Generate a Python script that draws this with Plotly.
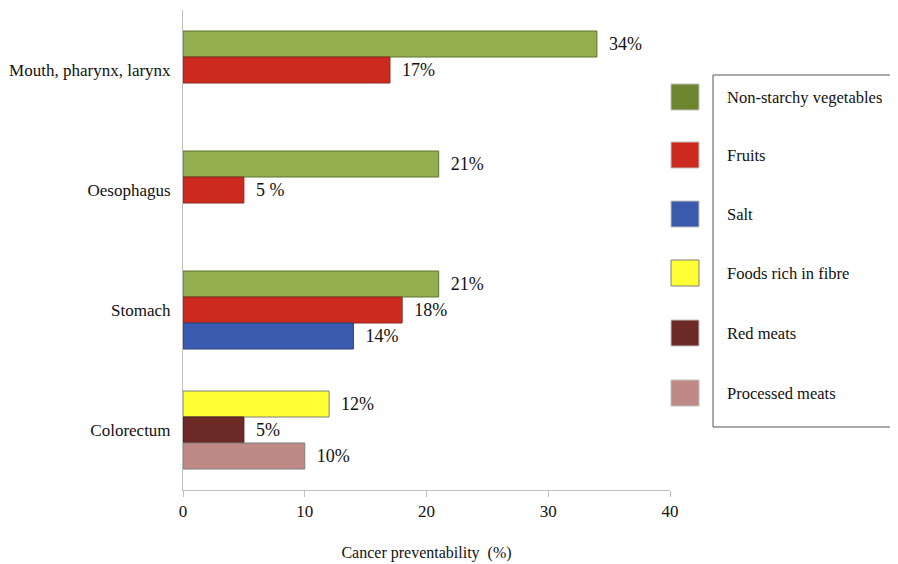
import plotly.graph_objects as go

categories = ["Mouth, pharynx, larynx", "Oesophagus", "Stomach", "Colorectum"]
series_names = ["Non-starchy vegetables", "Fruits", "Salt", "Foods rich in fibre", "Red meats", "Processed meats"]
veg = [34, 21, 21, None]
fruits = [17, 5, 18, None]
salt = [None, None, 14, None]
fibre = [None, None, None, 12]
red_meat = [None, None, None, 5]
processed = [None, None, None, 10]
veg_labels = ["34%", "21%", "21%", ""]
fruit_labels = ["17%", "5 %", "18%", ""]
salt_labels = ["", "", "14%", ""]
fibre_labels = ["", "", "", "12%"]
red_labels = ["", "", "", "5%"]
proc_labels = ["", "", "", "10%"]
x_ticks = [0, 10, 20, 30, 40]

FONT = "'Liberation Serif', 'Times New Roman', 'DejaVu Serif', serif"
series = [
    (series_names[0], veg, veg_labels, "#93ae4e", "#5d7530", "#6e8530", "0"),
    (series_names[1], fruits, fruit_labels, "#cc2a1f", "#8a2a20", "#cc2a1e", "1"),
    (series_names[2], salt, salt_labels, "#3a5bb0", "#2b437f", "#3a5bad", "2"),
    (series_names[3], fibre, fibre_labels, "#ffff33", "#808080", "#ffff33", "0"),
    (series_names[4], red_meat, red_labels, "#6e2a27", "#4a1c1a", "#6e2a26", "1"),
    (series_names[5], processed, proc_labels, "#bf8a85", "#7f7f7f", "#bf8a85", "2"),
]

fig = go.Figure()
for name, vals, labels, col, edge, lcol, og in series:
    fig.add_trace(go.Bar(
        y=categories, x=vals, orientation="h", name=name,
        marker=dict(color=col, line=dict(color=edge, width=1)),
        text=labels, texttemplate="  %{text}", textposition="outside",
        textfont=dict(family=FONT, size=18, color="#111"),
        cliponaxis=False, offsetgroup=og, showlegend=False,
    ))

W, H = 890, 556
L, T = 175, 2
PW, PH = 487, 480
fig.update_layout(
    width=W, height=H,
    margin=dict(l=L, r=W - L - PW, t=T, b=H - T - PH),
    paper_bgcolor="white", plot_bgcolor="white",
    barmode="group", bargap=0.35, bargroupgap=0,
    font=dict(family=FONT, size=16, color="#111"),
    xaxis=dict(range=[0, 40], tickvals=x_ticks, showgrid=False, zeroline=False,
               showline=True, linecolor="#bfbfbf", linewidth=1,
               ticks="outside", ticklen=6, tickcolor="#bfbfbf",
               tickfont=dict(family=FONT, size=17),
               title=dict(text="Cancer preventability  (%)", font=dict(family=FONT, size=16), standoff=26)),
    yaxis=dict(autorange="reversed", showgrid=False, zeroline=False,
               showline=True, linecolor="#bfbfbf", linewidth=1, ticks="",
               ticklabelstandoff=8, tickfont=dict(family=FONT, size=17)),
)

# custom legend (box, swatches, texts), positioned relative to plot area in px
def px_x(p):
    return (p - 183) / float(PW)

def px_y(p):
    return (490 - p) / float(PH)

fig.add_shape(type="rect", xref="paper", yref="paper",
              x0=px_x(713), x1=px_x(905), y0=px_y(427), y1=px_y(75),
              line=dict(color="#555", width=1), fillcolor="rgba(0,0,0,0)")
legend_y = [97, 155, 214, 273, 333, 393]
for (name, vals, labels, col, edge, lcol, og), ly in zip(series, legend_y):
    border = "#808080" if name == "Foods rich in fibre" else "#bfbfbf"
    fig.add_shape(type="rect", xref="paper", yref="paper",
                  x0=px_x(671), x1=px_x(699), y0=px_y(ly + 13), y1=px_y(ly - 13),
                  line=dict(color=border, width=1), fillcolor=lcol)
    fig.add_annotation(xref="paper", yref="paper", x=px_x(725), y=px_y(ly),
                       text=name, showarrow=False, xanchor="left", yanchor="middle",
                       font=dict(family=FONT, size=16.5, color="#111"))

fig.write_html("out.html")
